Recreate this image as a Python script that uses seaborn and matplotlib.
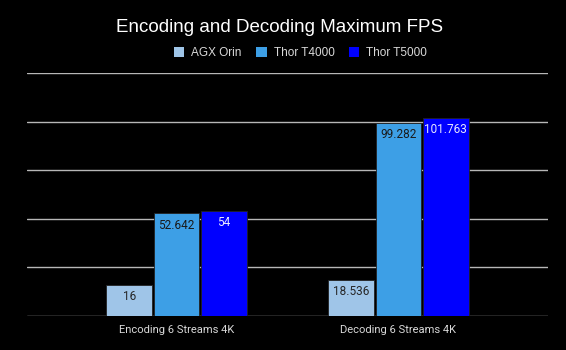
import matplotlib
matplotlib.use("Agg")
import matplotlib.pyplot as plt
from matplotlib.patches import Patch
import pandas as pd
import seaborn as sns

# data
workloads = ["Encoding 6 Streams 4K", "Decoding 6 Streams 4K"]
devices = ["AGX Orin", "Thor T4000", "Thor T5000"]
agx_orin = [16, 18.536]
thor_t4000 = [52.642, 99.282]
thor_t5000 = [54, 101.763]

colors = ["#9fc5e8", "#3d9fe6", "#0000ff"]
label_colors = ["#262626", "#1a1a1a", "#e8e8ff"]

df = pd.DataFrame({
    "Workload": workloads * 3,
    "Device": [d for d in devices for _ in workloads],
    "FPS": agx_orin + thor_t4000 + thor_t5000,
})

sns.set_style("dark")
plt.rcParams["font.family"] = ["Roboto", "DejaVu Sans"]

fig = plt.figure(figsize=(5.66, 3.5), dpi=100, facecolor="black")
ax = fig.add_axes([27 / 566, 34.3 / 350, 521 / 566, 242.7 / 350])
ax.set_facecolor("black")

sns.barplot(data=df, x="Workload", y="FPS", hue="Device", order=workloads,
            hue_order=devices, palette=colors, width=0.64, gap=0.04,
            edgecolor="#222222", linewidth=0.6, saturation=1, ax=ax, zorder=3,
            legend=False)

for cont, c in zip(ax.containers, label_colors):
    ax.bar_label(cont, labels=[f"{v:g}" for v in cont.datavalues],
                 padding=-13, color=c, fontsize=8.5)

ax.set_ylim(0, 125)
ax.set_yticks([0, 25, 50, 75, 100, 125])
ax.set_yticklabels([])
ax.set_xlim(-0.674, 1.674)
ax.grid(axis="y", color="#b7b7b7", linewidth=1)
ax.grid(axis="x", visible=False)
for s in ax.spines.values():
    s.set_visible(False)
ax.tick_params(length=0, colors="#d9d9d9", labelsize=8, pad=7)
ax.set_xlabel("")
ax.set_ylabel("")

fig.text(280 / 566, 1 - 27 / 350, "Encoding and Decoding Maximum FPS",
         ha="center", va="center", fontsize=13.5, color="white",
         family=["Liberation Sans", "DejaVu Sans"])

handles = [Patch(facecolor=c, edgecolor="none") for c in colors]
leg = ax.legend(handles, devices, loc="center", bbox_to_anchor=(300.5 / 566, 1 - 53 / 350),
                bbox_transform=fig.transFigure, ncol=3, frameon=False,
                prop={"family": ["Liberation Sans", "DejaVu Sans"], "size": 8.5},
                labelcolor="#d9d9d9", handlelength=0.9, handleheight=0.9,
                handletextpad=0.6, columnspacing=1.2)

fig.savefig("out.png", dpi=100, facecolor="black")
